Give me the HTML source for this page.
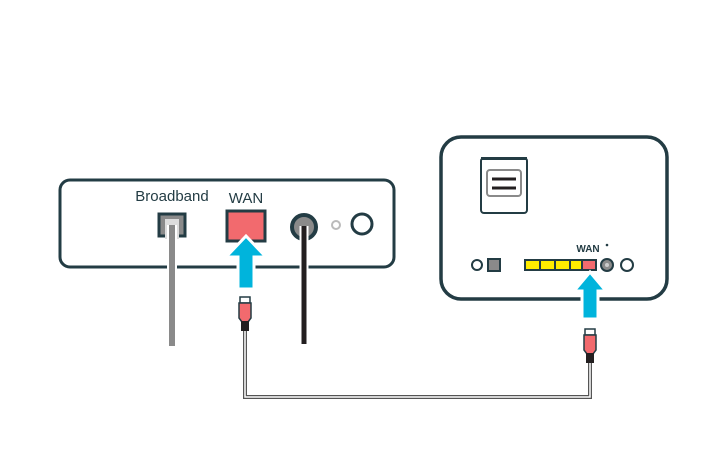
<!DOCTYPE html><html><head><style>body{margin:0;background:#fff}</style></head><body>
<svg width="716" height="461" viewBox="0 0 716 461" xmlns="http://www.w3.org/2000/svg" font-family="Liberation Sans, sans-serif">
<rect width="716" height="461" fill="#fff"/>
<!-- cable between plugs -->
<path d="M245 330 V397 H590 V362" fill="none" stroke="#555" stroke-width="4"/>
<path d="M245 330 V397 H590 V362" fill="none" stroke="#fff" stroke-width="1.5"/>
<!-- left box -->
<rect x="60" y="180" width="334" height="87" rx="10" fill="#fff" stroke="#233c44" stroke-width="3"/>
<text x="172" y="201" font-size="15" fill="#233c44" text-anchor="middle">Broadband</text>
<text x="246" y="203" font-size="15" fill="#233c44" text-anchor="middle">WAN</text>
<rect x="159" y="214" width="26" height="22" fill="#8a8a8a" stroke="#233c44" stroke-width="3"/>
<rect x="165" y="219" width="14" height="20" fill="#ddd"/>
<line x1="172" y1="225" x2="172" y2="346" stroke="#fff" stroke-width="10"/>
<line x1="172" y1="225" x2="172" y2="346" stroke="#8a8a8a" stroke-width="6"/>
<rect x="227" y="211" width="38" height="30" fill="#f26a6e" stroke="#233c44" stroke-width="3"/>
<circle cx="304" cy="227" r="12" fill="#8a8a8a" stroke="#233c44" stroke-width="4"/>
<line x1="304" y1="226" x2="304" y2="344" stroke="#fff" stroke-width="9"/>
<line x1="304" y1="226" x2="304" y2="344" stroke="#231f20" stroke-width="5"/>
<circle cx="336" cy="225" r="4" fill="#fff" stroke="#bbb" stroke-width="2"/>
<circle cx="362" cy="224" r="10" fill="#fff" stroke="#233c44" stroke-width="3"/>
<path d="M246 236 L266 257 H254 V289 H238 V257 H226 Z" fill="#00b4dc" stroke="#fff" stroke-width="3"/>
<!-- left plug -->
<rect x="240" y="297" width="10" height="6" fill="#fff" stroke="#233c44" stroke-width="1.5"/>
<path d="M239 303 H251 V318 L248 322 H242 L239 318 Z" fill="#f26a6e" stroke="#233c44" stroke-width="1.5"/>
<rect x="241" y="321" width="8" height="10" fill="#231f20"/>
<!-- right box -->
<rect x="441" y="137" width="226" height="162" rx="20" fill="#fff" stroke="#233c44" stroke-width="3.5"/>
<rect x="481" y="158" width="46" height="55" rx="3" fill="#fff" stroke="#233c44" stroke-width="2"/>
<rect x="481" y="157" width="46" height="3" fill="#233c44"/>
<rect x="487" y="170" width="34" height="26" rx="3" fill="#fff" stroke="#8a8a8a" stroke-width="2"/>
<line x1="492" y1="179" x2="516" y2="179" stroke="#231f20" stroke-width="3"/>
<line x1="492" y1="188" x2="516" y2="188" stroke="#231f20" stroke-width="3"/>
<text x="588" y="252" font-size="10" font-weight="bold" fill="#233c44" text-anchor="middle">WAN</text>
<circle cx="607" cy="245" r="1.3" fill="#233c44"/>
<circle cx="477" cy="265" r="5" fill="#fff" stroke="#233c44" stroke-width="2"/>
<rect x="488" y="259" width="12" height="12" fill="#8a8a8a" stroke="#233c44" stroke-width="2"/>
<rect x="524" y="259" width="73" height="12" fill="#233c44"/>
<rect x="526" y="261" width="13" height="8" fill="#ffec00"/>
<rect x="541" y="261" width="13" height="8" fill="#ffec00"/>
<rect x="556" y="261" width="13" height="8" fill="#ffec00"/>
<rect x="571" y="261" width="10" height="8" fill="#ffec00"/>
<rect x="583" y="261" width="12" height="8" fill="#f26a6e"/>
<circle cx="607" cy="265" r="6" fill="#8a8a8a" stroke="#233c44" stroke-width="2"/>
<circle cx="607" cy="265" r="2" fill="#ccc"/>
<circle cx="627" cy="265" r="6" fill="#fff" stroke="#233c44" stroke-width="2"/>
<path d="M590 272 L606 291 H598 V319 H582 V291 H574 Z" fill="#00b4dc" stroke="#fff" stroke-width="3"/>
<!-- right plug -->
<rect x="585" y="329" width="10" height="6" fill="#fff" stroke="#233c44" stroke-width="1.5"/>
<path d="M584 335 H596 V350 L593 354 H587 L584 350 Z" fill="#f26a6e" stroke="#233c44" stroke-width="1.5"/>
<rect x="586" y="353" width="8" height="10" fill="#231f20"/>
</svg>
</body></html>
